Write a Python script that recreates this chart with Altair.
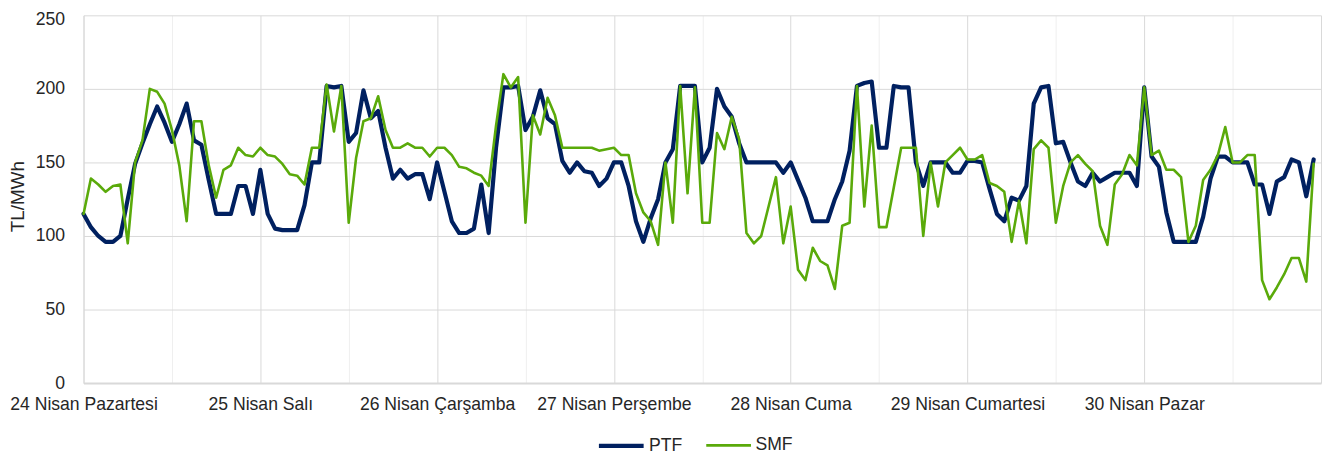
import altair as alt
import pandas as pd

day_labels = ["24 Nisan Pazartesi", "25 Nisan Salı", "26 Nisan Çarşamba", "27 Nisan Perşembe",
              "28 Nisan Cuma", "29 Nisan Cumartesi", "30 Nisan Pazar"]
series_names = ["PTF", "SMF"]
y_ticks = [0, 50, 100, 150, 200, 250]

ptf = [115, 106, 100, 96, 96, 100, 125, 149, 163, 176, 188, 177, 164, 176, 190, 165, 162, 138, 115, 115, 115, 134, 134, 115,
       145, 115, 105, 104, 104, 104, 121, 150, 150, 202, 201, 202, 164, 170, 199, 180, 185, 160, 139, 145, 139, 142, 142, 125,
       150, 130, 110, 102, 102, 105, 135, 102, 160, 201, 201, 202, 172, 181, 199, 180, 176, 151, 143, 150, 144, 143, 134, 139,
       150, 150, 134, 110, 96, 112, 125, 150, 159, 202, 202, 202, 150, 160, 200, 188, 181, 163, 150, 150, 150, 150, 150, 143,
       150, 138, 126, 110, 110, 110, 125, 137, 158, 202, 204, 205, 160, 160, 202, 201, 201, 150, 134, 150, 150, 150, 143, 143,
       151, 151, 150, 132, 115, 110, 126, 124, 134, 190, 201, 202, 163, 164, 150, 137, 134, 143, 137, 140, 143, 143, 143, 134,
       201, 154, 147, 116, 96, 96, 96, 96, 113, 139, 154, 154, 150, 150, 150, 135, 135, 115, 137, 140, 152, 150, 127, 152]

smf = [115, 139, 135, 130, 134, 135, 95, 150, 165, 200, 198, 190, 172, 148, 110, 178, 178, 148, 126, 145, 148, 160, 155, 154,
       160, 155, 154, 149, 142, 141, 135, 160, 160, 203, 171, 202, 109, 153, 178, 180, 195, 172, 160, 160, 163, 160, 160, 154,
       160, 160, 155, 147, 146, 143, 141, 134, 175, 210, 201, 208, 109, 182, 169, 194, 182, 160, 160, 160, 160, 160, 158, 159,
       160, 155, 155, 129, 116, 110, 94, 150, 109, 202, 129, 201, 109, 109, 170, 159, 181, 166, 102, 95, 100, 120, 140, 95,
       120, 77, 70, 92, 83, 80, 64, 107, 109, 202, 120, 175, 106, 106, 133, 160, 160, 160, 100, 150, 120, 150, 155, 160,
       152, 152, 155, 136, 134, 130, 96, 124, 95, 159, 165, 160, 109, 134, 150, 155, 149, 144, 107, 94, 135, 142, 155, 148,
       201, 155, 158, 145, 145, 140, 96, 107, 138, 145, 155, 174, 150, 150, 155, 155, 70, 57, 65, 74, 85, 85, 69, 149]

n = len(ptf)
df = pd.DataFrame({
    "hour": list(range(n)) * 2,
    "value": ptf + smf,
    "series": ["PTF"] * n + ["SMF"] * n,
})

labels_js = "[" + ",".join("'" + l + "'" for l in day_labels) + "]"
label_expr = f"(datum.value % 24 == 0 && datum.value < {n}) ? {labels_js}[datum.value / 24] : ''"

TXT = "#262626"
GRID = "#d9d9d9"

legend = alt.Legend(title=None, orient="none", legendX=516, legendY=408, direction="horizontal",
                    symbolType="stroke", symbolSize=2025, labelFontSize=17.7, labelColor=TXT,
                    columnPadding=18, labelOffset=3)

base = alt.Chart(df).mark_line(strokeJoin="round", strokeCap="round").encode(
    x=alt.X("hour:Q", scale=alt.Scale(domain=[0, n], nice=False, zero=False),
            axis=alt.Axis(values=list(range(0, n + 1, 12)), labelExpr=label_expr, title=None,
                          ticks=False, labelPadding=13, labelOverlap=False, labelFlush=False,
                          labelFontSize=17.7, labelColor=TXT,
                          gridColor=alt.condition("datum.value % 24 == 0", alt.value(GRID), alt.value("#efefef")),
                          domainColor=GRID, domainWidth=2, labelAlign="center")),
    y=alt.Y("value:Q", scale=alt.Scale(domain=[0, 250], nice=False),
            axis=alt.Axis(values=y_ticks, title="TL/MWh", ticks=False, labelPadding=19,
                          labelFontSize=17.7, labelColor=TXT, titleFontSize=19,
                          labelOffset=alt.condition("datum.value == 250", alt.value(4), alt.value(0)),
                          titleFontWeight="normal", titleColor=TXT,
                          titleX=-66, titleY=182, titleAngle=270, titleAlign="center",
                          titleBaseline="middle",
                          gridColor=GRID, domainColor=GRID)),
    color=alt.Color("series:N", scale=alt.Scale(domain=series_names, range=["#002060", "#5aaa0a"]),
                    legend=legend),
    strokeWidth=alt.StrokeWidth("series:N", scale=alt.Scale(domain=series_names, range=[4.2, 2.6]),
                                legend=legend),
)

chart = alt.layer(
    base.transform_filter(alt.datum.series == "PTF"),
    base.transform_filter(alt.datum.series == "SMF"),
).properties(
    width=1245, height=370,
    autosize=alt.AutoSizeParams(type="none"),
    padding={"left": 76, "top": 6, "right": 2, "bottom": 73},
).configure(font="Liberation Sans").configure_view(strokeWidth=0)

chart.save("out.html", embed_options={"renderer": "svg", "actions": False})
